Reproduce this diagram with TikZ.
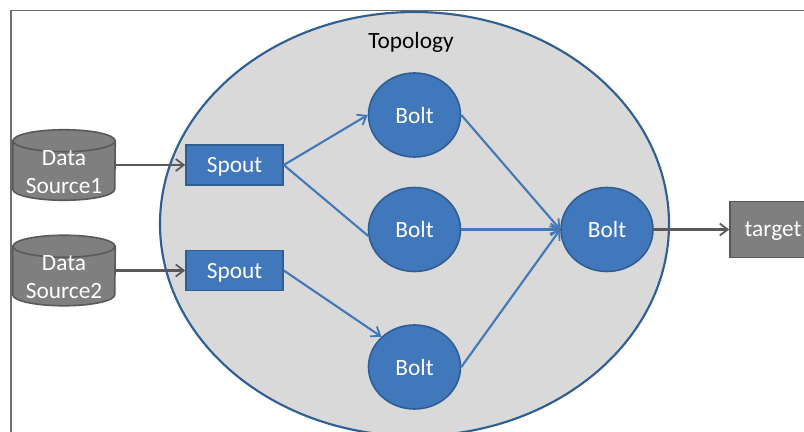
\documentclass[tikz,border=0pt]{standalone}
\usepackage{fontspec}
\setmainfont{Carlito}
\usetikzlibrary{shapes.geometric,arrows.meta,calc}
\definecolor{blueF}{HTML}{4178BC}
\definecolor{blueD}{HTML}{2F5F92}
\definecolor{blueL}{HTML}{4479B8}
\definecolor{grayF}{HTML}{7F7F7F}
\definecolor{grayD}{HTML}{595959}
\definecolor{frameC}{HTML}{6E6E6E}
\tikzset{
  topo/.style={ellipse,draw=blueD,fill=black!15,line width=1.6pt,minimum width=509*0.75pt,minimum height=424*0.75pt,inner sep=0pt},
  spoutbox/.style={rectangle,draw=blueD,fill=blueF,line width=1.2pt,minimum width=97*0.75pt,minimum height=40*0.75pt,inner sep=0pt,text=white,text depth=0pt,font=\fontsize{17.5}{21}\selectfont},
  boltnode/.style={ellipse,draw=blueD,fill=blueF,line width=1.2pt,minimum width=92*0.75pt,minimum height=84*0.75pt,inner sep=0pt,text=white,font=\fontsize{17.5}{21}\selectfont},
  sourcebox/.style={rectangle,minimum width=102*0.75pt,minimum height=70*0.75pt,inner sep=0pt},
  cylpaint/.style={draw=grayD,fill=grayF,line width=1.2pt},
  targetbox/.style={rectangle,draw=grayD,fill=grayF,line width=1.2pt,minimum width=100*0.75pt,minimum height=56*0.75pt,inner sep=0pt},
  whitetext/.style={text=white,align=center,inner sep=0pt,font=\fontsize{17.5}{21}\selectfont},
  grayarrow/.style={draw=grayD,line width=1.6pt,-{Straight Barb[length=6pt,width=9pt,line width=1.3pt]}},
  bluearrow/.style={draw=blueL,line width=1.6pt,-{Straight Barb[length=6pt,width=9pt,line width=1.4pt]}},
  blueline/.style={draw=blueL,line width=1.6pt},
  frameline/.style={draw=frameC,line width=0.8pt}
}
\newcommand{\cylpath}[1]{%
  \path[cylpaint] ($(#1.north west)+(0,11)$)
    -- ($(#1.south west)+(0,-11)$)
    arc[start angle=180,end angle=0,x radius=51,y radius=11]
    -- ($(#1.north east)+(0,11)$) -- cycle;
  \path[cylpaint] ($(#1.north)+(0,11)$) ellipse[x radius=51,y radius=11];
}
\begin{document}
\begin{tikzpicture}[x=0.75pt,y=-0.75pt]
\useasboundingbox (0,0) rectangle (804,432);
\clip (0,0) rectangle (804,432);
\fill[white] (0,0) rectangle (804,432);
\coordinate (frameA) at (11,432);
\coordinate (frameB) at (11,10.5);
\coordinate (frameC1) at (804,10.5);
\draw[frameline] (frameA) -- (frameB) -- (frameC1);
\node[topo] (topology) at (414.5,224) {};
\node[whitetext,text=black] (topolabel) at (411,42) {Topology};
\node[sourcebox] (ds1) at (64,165) {};
\node[sourcebox] (ds2) at (64,270.5) {};
\cylpath{ds1}
\cylpath{ds2}
\node[whitetext] (ds1label) at (64,172) {Data\\Source1};
\node[whitetext] (ds2label) at (64,277.5) {Data\\Source2};
\node[spoutbox] (sp1) at (234.5,165) {Spout};
\node[spoutbox] (sp2) at (234.5,270.5) {Spout};
\node[boltnode] (b1) at (414.5,115) {Bolt};
\node[boltnode] (b2) at (414.5,229.5) {Bolt};
\node[boltnode] (b3) at (414.5,367) {Bolt};
\node[boltnode] (b4) at (607,229.5) {Bolt};
\node[targetbox] (target) at (780,229.5) {};
\node[whitetext] (targetlabel) at (773,231) {target};
\draw[grayarrow] (ds1.east) -- (sp1.west);
\draw[grayarrow] (ds2.east) -- (sp2.west);
\draw[bluearrow] (sp1.east) -- (b1.west);
\draw[blueline] (sp1.east) -- (b2.188);
\draw[bluearrow] (sp2.east) -- (b3.north west);
\draw[bluearrow] (b1.east) -- (b4.west);
\draw[bluearrow] (b2.east) -- (b4.west);
\draw[bluearrow] (b3.east) -- (b4.west);
\draw[grayarrow] (b4.east) -- (target.west);
\end{tikzpicture}
\end{document}
